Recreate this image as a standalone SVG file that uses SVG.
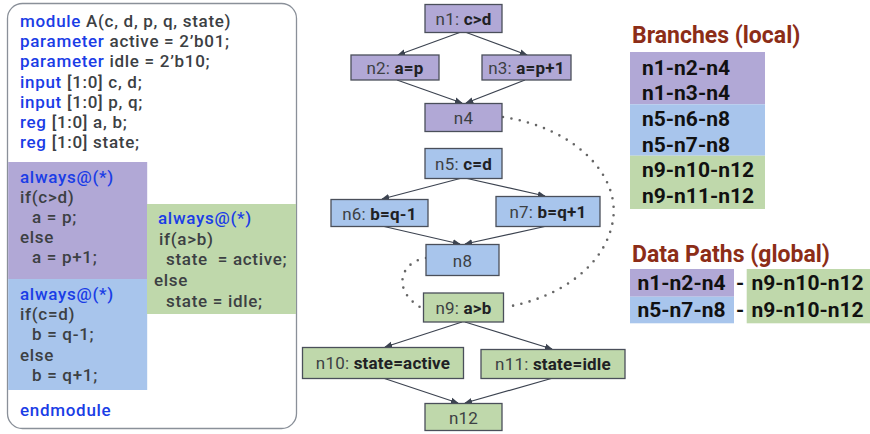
<svg xmlns="http://www.w3.org/2000/svg" width="870" height="434" viewBox="0 0 870 434">
  <style>
    .code { font-family: Roboto, "Liberation Sans", sans-serif; font-size: 17px; font-weight: 500; letter-spacing: 0.7px; fill: #3c4043; white-space: pre; }
    .kw { fill: #1a3de6; }
    .node rect { stroke: #4a4f5a; stroke-width: 1.3; }
    .purple { fill: #b1a8d6; }
    .blue { fill: #a8c5ec; }
    .green { fill: #bfd8ab; }
    .lbl { font-family: Roboto, "Liberation Sans", sans-serif; font-size: 17px; letter-spacing: 0.2px; fill: #3c4043; text-anchor: middle; }
    .b { font-weight: bold; fill: #202124; }
    .edge { stroke: #3c4350; stroke-width: 1.2; fill: none; marker-end: url(#arrow); }
    .dots { stroke: #666; stroke-width: 2.6; stroke-linecap: round; stroke-dasharray: 0 8.5; fill: none; }
    .title { font-family: Roboto, "Liberation Sans", sans-serif; font-size: 23px; font-weight: bold; fill: #8c2d17; }
    .path { font-family: Roboto, "Liberation Sans", sans-serif; font-size: 21px; font-weight: bold; fill: #111; }
  </style>
  <defs>
    <marker id="arrow" viewBox="0 0 10 10" refX="9" refY="5" markerWidth="8" markerHeight="8" markerUnits="userSpaceOnUse" orient="auto">
      <path d="M0,1 L10,5 L0,9 z" fill="#3c4350"/>
    </marker>
  </defs>

  <!-- Verilog source panel -->
  <g id="code">
    <rect x="7.5" y="3.5" width="289" height="425" rx="15" fill="#fff" stroke="#8a9099" stroke-width="1.3"/>
    <rect x="8.2" y="162" width="139" height="117" class="purple"/>
    <rect x="8.2" y="279" width="139" height="111" class="blue"/>
    <rect x="147" y="204" width="149" height="110" class="green"/>
    <text class="code" x="20" y="27"><tspan class="kw">module</tspan> A(c, d, p, q, state)</text>
    <text class="code" x="20" y="47"><tspan class="kw">parameter</tspan> active = 2’b01;</text>
    <text class="code" x="20" y="67"><tspan class="kw">parameter</tspan> idle = 2’b10;</text>
    <text class="code" x="20" y="88"><tspan class="kw">input</tspan> [1:0] c, d;</text>
    <text class="code" x="20" y="108"><tspan class="kw">input</tspan> [1:0] p, q;</text>
    <text class="code" x="20" y="128"><tspan class="kw">reg</tspan> [1:0] a, b;</text>
    <text class="code" x="20" y="148"><tspan class="kw">reg</tspan> [1:0] state;</text>

    <text class="code kw" x="20" y="183">always@(*)</text>
    <text class="code" x="20" y="203">if(c&gt;d)</text>
    <text class="code" x="32" y="223">a = p;</text>
    <text class="code" x="20" y="243">else</text>
    <text class="code" x="32" y="263">a = p+1;</text>

    <text class="code kw" x="20" y="300">always@(*)</text>
    <text class="code" x="20" y="320">if(c=d)</text>
    <text class="code" x="32" y="340">b = q-1;</text>
    <text class="code" x="20" y="361">else</text>
    <text class="code" x="32" y="381">b = q+1;</text>

    <text class="code kw" x="158" y="224">always@(*)</text>
    <text class="code" x="159" y="245">if(a&gt;b)</text>
    <text class="code" x="166" y="265" xml:space="preserve">state  = active;</text>
    <text class="code" x="154" y="286">else</text>
    <text class="code" x="166" y="307">state = idle;</text>

    <text class="code kw" x="20" y="416">endmodule</text>
  </g>

  <!-- control-flow graph edges -->
  <g id="connectors">
    <path class="edge" d="M461,32 L398,55"/>
    <path class="edge" d="M465,32 L527,55"/>
    <path class="edge" d="M397,80 L462,103"/>
    <path class="edge" d="M525,80 L466,103"/>
    <path class="edge" d="M462,178 L382,199"/>
    <path class="edge" d="M465,178 L545,196"/>
    <path class="edge" d="M382,226 L460,244"/>
    <path class="edge" d="M547,226 L465,244"/>
    <path class="edge" d="M462,322 L385,347"/>
    <path class="edge" d="M465,322 L552,349"/>
    <path class="edge" d="M383,378 L458,403"/>
    <path class="edge" d="M553,378 L465,403"/>
    <path class="dots" d="M503,117 C575,128 620,175 613,220 C606,265 560,298 506,307"/>
    <path class="dots" d="M426,258 C400,262 392,290 420,307"/>
  </g>

  <g id="n1" class="node"><rect x="425" y="4.5" width="77" height="28" class="purple"/><text class="lbl" x="463.5" y="24.5">n1: <tspan class="b">c&gt;d</tspan></text></g>
  <g id="n2" class="node"><rect x="351" y="55" width="88" height="25" class="purple"/><text class="lbl" x="395" y="73.5">n2: <tspan class="b">a=p</tspan></text></g>
  <g id="n3" class="node"><rect x="482" y="55" width="89" height="25" class="purple"/><text class="lbl" x="526.5" y="73.5">n3: <tspan class="b">a=p+1</tspan></text></g>
  <g id="n4" class="node"><rect x="425" y="103.5" width="77" height="28" class="purple"/><text class="lbl" x="463.5" y="123.5">n4</text></g>

  <g id="n5" class="node"><rect x="425" y="148.5" width="77" height="30" class="blue"/><text class="lbl" x="463.5" y="169.5">n5: <tspan class="b">c=d</tspan></text></g>
  <g id="n6" class="node"><rect x="331" y="199.5" width="97" height="27" class="blue"/><text class="lbl" x="379.5" y="219.5">n6: <tspan class="b">b=q-1</tspan></text></g>
  <g id="n7" class="node"><rect x="496" y="196.5" width="104" height="30" class="blue"/><text class="lbl" x="548" y="218">n7: <tspan class="b">b=q+1</tspan></text></g>
  <g id="n8" class="node"><rect x="426" y="244.5" width="73" height="31" class="blue"/><text class="lbl" x="462.5" y="266.5">n8</text></g>

  <g id="n9" class="node"><rect x="423.5" y="293" width="80" height="29" class="green"/><text class="lbl" x="463.5" y="313.5">n9: <tspan class="b">a&gt;b</tspan></text></g>
  <g id="n10" class="node"><rect x="302.5" y="347.5" width="161" height="31" class="green"/><text class="lbl" x="383" y="369">n10: <tspan class="b">state=active</tspan></text></g>
  <g id="n11" class="node"><rect x="481" y="349.5" width="144" height="29" class="green"/><text class="lbl" x="553" y="370">n11: <tspan class="b">state=idle</tspan></text></g>
  <g id="n12" class="node"><rect x="425" y="403.5" width="77" height="27" class="green"/><text class="lbl" x="463.5" y="423.5">n12</text></g>

  <!-- branch table -->
  <g id="branches">
    <text class="title" x="632" y="43">Branches (local)</text>
    <rect x="630" y="52" width="135" height="52.3" class="purple"/>
    <rect x="630" y="104.3" width="135" height="51.4" class="blue"/>
    <rect x="630" y="155.7" width="135" height="53.3" class="green"/>
    <text class="path" x="642" y="75">n1-n2-n4</text>
    <text class="path" x="642" y="100">n1-n3-n4</text>
    <text class="path" x="642" y="126">n5-n6-n8</text>
    <text class="path" x="642" y="152">n5-n7-n8</text>
    <text class="path" x="642" y="177">n9-n10-n12</text>
    <text class="path" x="642" y="203">n9-n11-n12</text>
  </g>

  <!-- data path table -->
  <g id="datapaths">
    <text class="title" x="632" y="262">Data Paths (global)</text>
    <rect x="630" y="269" width="104" height="27.7" class="purple"/>
    <rect x="630" y="296.7" width="104" height="26.6" class="blue"/>
    <rect x="746.7" y="269" width="124" height="54.3" class="green"/>
    <text class="path" x="637.5" y="290">n1-n2-n4</text>
    <text class="path" x="637.5" y="317">n5-n7-n8</text>
    <text class="path" x="736" y="290">-</text>
    <text class="path" x="736" y="317">-</text>
    <text class="path" x="751.5" y="290">n9-n10-n12</text>
    <text class="path" x="751.5" y="317">n9-n10-n12</text>
  </g>
</svg>
